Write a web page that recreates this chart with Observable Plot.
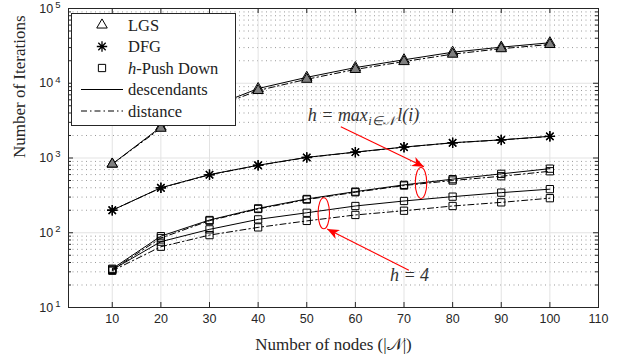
<!DOCTYPE html>
<html><head><meta charset="utf-8">
<script src="https://cdn.jsdelivr.net/npm/d3@7"></script>
<script src="https://cdn.jsdelivr.net/npm/@observablehq/plot@0.6"></script>
<style>
body{margin:0;background:#fff;}
#wrap{position:relative;width:625px;height:356px;overflow:hidden;}
#legend{position:absolute;left:71px;top:13px;width:165px;height:113px;border:1px solid #262626;background:#fff;box-sizing:border-box;}
#legend svg{position:absolute;left:0;top:0;}
</style></head><body><div id="wrap"></div>
<script>
// ---- data ----
const xNodes = [10, 20, 30, 40, 50, 60, 70, 80, 90, 100];
const lgsDesc   = [830, 2600, 4700, 8500, 12000, 16200, 20600, 26000, 30400, 34800];
const lgsDist   = [830, 2500, 4500, 8000, 11300, 15300, 19500, 24500, 29000, 33000];
const dfgDesc   = [200, 400, 600, 800, 1020, 1200, 1400, 1600, 1750, 1950];
const dfgDist   = [200, 398, 596, 796, 1015, 1195, 1395, 1595, 1745, 1945];
const pdMaxDesc = [33, 90, 148, 212, 283, 355, 437, 521, 614, 720];
const pdMaxDist = [32, 85, 145, 208, 278, 348, 428, 500, 570, 665];
const pd4Desc   = [32, 76, 111, 151, 185, 228, 266, 304, 344, 383];
const pd4Dist   = [31, 65, 93, 118, 144, 173, 197, 228, 255, 290];

const xTicks = [10, 20, 30, 40, 50, 60, 70, 80, 90, 100, 110];
const yMajor = [1e1, 1e2, 1e3, 1e4, 1e5];
const yMinorMult = [2, 3, 4, 5, 6, 7, 8, 9];
const yMinor = [1e1, 1e2, 1e3, 1e4].flatMap(d => yMinorMult.map(m => d * m));

const xLabel = "Number of nodes (|𝒩|)";
const yLabel = "Number of Iterations";

const legendLabels = ["LGS", "DFG", "<tspan font-style='italic'>h</tspan>-Push Down", "descendants", "distance"];
const legendSymbols = ["triangle", "asterisk", "square", null, null];
const legendDash = [null, null, null, "none", "6,3,1.5,3"];

// annotations (data coordinates)
const annotLabels = ["h = max_{i∈𝒩}l(i)", "h = 4"];
const annotX = [50.2, 67.1];
const annotY = [3680, 27];
const ellipseX = [73.5, 53.5];
const ellipseY = [464, 182];
const arrowX1 = [57.0, 71.0], arrowY1 = [2624, 31.6];
const arrowX2 = [74.1, 54.2], arrowY2 = [762, 112];

// ---- build table ----
const series = [
  {name: "LGS-desc", values: lgsDesc, kind: "desc", marker: "tri"},
  {name: "DFG-desc", values: dfgDesc, kind: "desc", marker: "ast"},
  {name: "PDmax-desc", values: pdMaxDesc, kind: "desc", marker: "sq"},
  {name: "PD4-desc", values: pd4Desc, kind: "desc", marker: "sq"},
  {name: "LGS-dist", values: lgsDist, kind: "dist", marker: "tri"},
  {name: "DFG-dist", values: dfgDist, kind: "dist", marker: "ast"},
  {name: "PDmax-dist", values: pdMaxDist, kind: "dist", marker: "sq"},
  {name: "PD4-dist", values: pd4Dist, kind: "dist", marker: "sq"}
];
const rows = series.flatMap(s => s.values.map((v, i) => ({x: xNodes[i], y: v, name: s.name, kind: s.kind, marker: s.marker})));
const sel = (k, m) => rows.filter(d => d.kind === k && (m == null || d.marker === m));

// custom symbols
const asteriskSym = {draw(ctx, size) {
  const r = Math.sqrt(size / Math.PI), c = r * Math.SQRT1_2;
  ctx.moveTo(-r, 0); ctx.lineTo(r, 0);
  ctx.moveTo(0, -r); ctx.lineTo(0, r);
  ctx.moveTo(-c, -c); ctx.lineTo(c, c);
  ctx.moveTo(-c, c); ctx.lineTo(c, -c);
}};
const ellipseSym = {draw(ctx, size) {
  const r = Math.sqrt(size / Math.PI), rx = r * 0.37, ry = r, k = 0.5523;
  ctx.moveTo(rx, 0);
  ctx.bezierCurveTo(rx, ry * k, rx * k, ry, 0, ry);
  ctx.bezierCurveTo(-rx * k, ry, -rx, ry * k, -rx, 0);
  ctx.bezierCurveTo(-rx, -ry * k, -rx * k, -ry, 0, -ry);
  ctx.bezierCurveTo(rx * k, -ry, rx, -ry * k, rx, 0);
  ctx.closePath();
}};

const INK = "#262626";
const SERIF = "Liberation Serif";
const dashDot = "6,3,1.5,3";

const ellipses = ellipseX.map((x, i) => ({x, y: ellipseY[i]}));
const arrows = arrowX1.map((x, i) => ({x1: x, y1: arrowY1[i], x2: arrowX2[i], y2: arrowY2[i]}));
const annots = annotLabels.map((t, i) => ({t, x: annotX[i], y: annotY[i]}));

const chart = Plot.plot({
  width: 625, height: 356,
  marginLeft: 68, marginRight: 27, marginTop: 8, marginBottom: 49,
  style: {fontFamily: "Liberation Sans", fontSize: "12.5px", color: INK, background: "#fff"},
  x: {domain: [1, 110]},
  y: {type: "log", domain: [10, 1e5]},
  marks: [
    Plot.gridY(yMinor, {stroke: "#9a9a9a", strokeOpacity: 1, strokeDasharray: "1,3.5"}),
    Plot.gridX(xTicks, {stroke: "#e3e3e3", strokeOpacity: 1}),
    Plot.gridY(yMajor, {stroke: "#e3e3e3", strokeOpacity: 1}),
    Plot.line(sel("desc"), {x: "x", y: "y", z: "name", stroke: "#000", strokeWidth: 1}),
    Plot.line(sel("dist"), {x: "x", y: "y", z: "name", stroke: "#000", strokeWidth: 1, strokeDasharray: dashDot}),
    Plot.dot(sel("desc", "tri"), {x: "x", y: "y", symbol: "triangle", r: 3.9, stroke: "#000", fill: "none", strokeWidth: 1}),
    Plot.dot(sel("dist", "tri"), {x: "x", y: "y", symbol: "triangle", r: 3.9, stroke: "#000", fill: "#7f7f7f", strokeWidth: 1}),
    Plot.dot(sel("desc", "ast"), {x: "x", y: "y", symbol: asteriskSym, r: 5.2, stroke: "#000", fill: "none", strokeWidth: 1.3}),
    Plot.dot(sel("dist", "ast"), {x: "x", y: "y", symbol: asteriskSym, r: 5.2, stroke: "#000", fill: "none", strokeWidth: 1.3}),
    Plot.dot(sel("desc", "sq"), {x: "x", y: "y", symbol: "square", r: 4.1, stroke: "#000", fill: "none", strokeWidth: 1}),
    Plot.dot(sel("dist", "sq"), {x: "x", y: "y", symbol: "square", r: 4.1, stroke: "#000", fill: "none", strokeWidth: 1}),
    // annotations
    Plot.dot(ellipses, {x: "x", y: "y", symbol: ellipseSym, r: 15.5, stroke: "#ff0000", fill: "none", strokeWidth: 1.1}),
    Plot.link(arrows, {x1: "x1", y1: "y1", x2: "x2", y2: "y2", stroke: "#ff0000", strokeWidth: 1.1}),
    Plot.text(annots, {x: "x", y: "y", text: "t", textAnchor: "start", fontFamily: SERIF, fontSize: 18, fill: "#333"}),
    // frame and inward ticks
    Plot.frame({stroke: INK, strokeWidth: 1}),
    Plot.tickX(xTicks, {x: d => d, insetTop: 294, stroke: INK}),
    Plot.tickX(xTicks, {x: d => d, insetBottom: 294, stroke: INK}),
    Plot.tickY(yMajor, {y: d => d, insetRight: 525, stroke: INK}),
    Plot.tickY(yMajor, {y: d => d, insetLeft: 525, stroke: INK}),
    Plot.tickY(yMinor, {y: d => d, insetRight: 527, stroke: INK}),
    Plot.tickY(yMinor, {y: d => d, insetLeft: 527, stroke: INK}),
    Plot.axisX({ticks: xTicks, tickSize: 0, tickPadding: 7, label: null, fill: INK}),
    Plot.axisY({ticks: yMajor, tickSize: 0, tickPadding: 8, label: null, fill: INK, tickFormat: d => "10^" + Math.round(Math.log10(d))}),
    Plot.text([xLabel], {frameAnchor: "bottom", dy: 42, fontFamily: SERIF, fontSize: 17, fill: INK}),
    Plot.text([yLabel], {frameAnchor: "left", rotate: -90, dx: -49, fontFamily: SERIF, fontSize: 17, fill: INK})
  ]
});

const NS = "http://www.w3.org/2000/svg";
function tspan(parent, txt, attrs) {
  const t = document.createElementNS(NS, "tspan");
  t.textContent = txt;
  for (const k in attrs) t.setAttribute(k, attrs[k]);
  parent.appendChild(t);
  return t;
}
// superscript exponents on y tick labels
chart.querySelectorAll('[aria-label="y-axis tick label"] text').forEach(t => {
  const [base, exp] = t.textContent.split("^");
  t.textContent = "";
  tspan(t, base, {});
  tspan(t, exp, {dy: "-0.5em", dx: "2", "font-size": "9.5px"});
});
// italic math + subscripts in annotations
chart.querySelectorAll("text").forEach(t => {
  if (!annotLabels.includes(t.textContent)) return;
  const parts = t.textContent.split(/_\{([^}]*)\}/);
  t.textContent = "";
  parts.forEach((p, i) => {
    if (i % 2 === 1) tspan(t, p, {dy: "4", dx: "0.5", "font-size": "12.5px", "font-style": "italic"});
    else tspan(t, p, Object.assign({"font-style": "italic"}, i > 0 ? {dy: "-4", dx: "2.5"} : {}));
  });
});
// filled arrowheads on the annotation links
const defs = d3.select(chart).append("defs");
defs.append("marker").attr("id", "redhead").attr("viewBox", "0 0 12 10").attr("refX", 12).attr("refY", 5)
  .attr("markerWidth", 12).attr("markerHeight", 10).attr("markerUnits", "userSpaceOnUse").attr("orient", "auto")
  .append("path").attr("d", "M0,0 L12,5 L0,10 L3.5,5 Z").attr("fill", "#ff0000");
chart.querySelectorAll('[aria-label="link"] path').forEach(p => p.setAttribute("marker-end", "url(#redhead)"));

const wrap = document.getElementById("wrap");
wrap.appendChild(chart);

// legend
const leg = document.createElement("div");
leg.id = "legend";
wrap.appendChild(leg);
const ls = d3.select(leg).append("svg").attr("width", 163).attr("height", 111);
const rowY = i => 11 + i * 21.5;
const symMap = {triangle: d3.symbolTriangle, square: d3.symbolSquare};
legendLabels.forEach((lab, i) => {
  const y = rowY(i);
  if (legendSymbols[i] === "asterisk") {
    ls.append("path").attr("transform", `translate(30,${y})`).attr("fill", "none").attr("stroke", "#000").attr("stroke-width", 1.3)
      .attr("d", () => { const p = d3.path(); asteriskSym.draw(p, Math.PI * 5.2 * 5.2); return p.toString(); });
  } else if (legendSymbols[i]) {
    const r = legendSymbols[i] === "square" ? 4.1 : 3.9;
    ls.append("path").attr("transform", `translate(30,${y})`).attr("fill", "none").attr("stroke", "#000")
      .attr("d", d3.symbol(symMap[legendSymbols[i]], Math.PI * r * r)());
  } else {
    ls.append("line").attr("x1", 9).attr("x2", 51).attr("y1", y).attr("y2", y).attr("stroke", "#000")
      .attr("stroke-dasharray", legendDash[i]);
  }
  ls.append("text").attr("x", 56).attr("y", y).attr("dy", "0.35em")
    .attr("font-family", SERIF).attr("font-size", 16.5).attr("fill", "#222").html(lab);
});
</script></body></html>
